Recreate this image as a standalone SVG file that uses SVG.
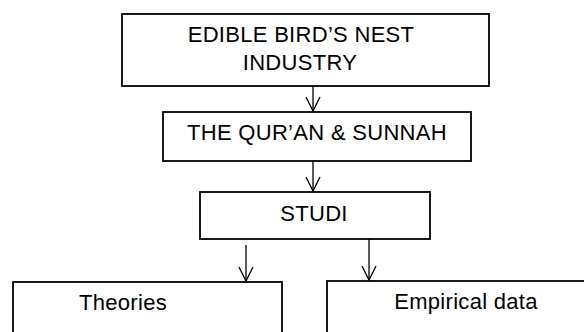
<svg xmlns="http://www.w3.org/2000/svg" width="584" height="332" viewBox="0 0 584 332">
<defs>
<style>
.box{fill:#fff;stroke:#000;stroke-width:1.8}
.lbl{font-family:"Liberation Sans",Arial,sans-serif;font-size:22px;letter-spacing:0.3px;fill:#000;text-anchor:middle}
.con{stroke:#000;stroke-width:1.3;fill:none}
</style>
<marker id="arr" markerUnits="userSpaceOnUse" markerWidth="20" markerHeight="20" viewBox="-16 -10 20 20" refX="0" refY="0" orient="auto">
<path d="M-14,-7 L0,0 L-14,7" fill="none" stroke="#000" stroke-width="1.3"/>
</marker>
</defs>
<rect width="584" height="332" fill="#fff"/>
<g id="connectors">
<line class="con" x1="313" y1="86" x2="313" y2="111" marker-end="url(#arr)"/>
<line class="con" x1="313" y1="161" x2="313" y2="191" marker-end="url(#arr)"/>
<line class="con" x1="246" y1="245" x2="246" y2="281" marker-end="url(#arr)"/>
<line class="con" x1="369" y1="239" x2="369" y2="280" marker-end="url(#arr)"/>
</g>
<g id="node-industry">
<rect class="box" x="122" y="14" width="367" height="72"/>
<text class="lbl" x="301" y="42">EDIBLE BIRD’S NEST</text>
<text class="lbl" x="300" y="70">INDUSTRY</text>
</g>
<g id="node-quran">
<rect class="box" x="163" y="112" width="308" height="49"/>
<text class="lbl" x="317" y="140">THE QUR’AN &amp; SUNNAH</text>
</g>
<g id="node-studi">
<rect class="box" x="200" y="192" width="230" height="47"/>
<text class="lbl" x="314" y="221">STUDI</text>
</g>
<g id="node-theories">
<rect class="box" x="13" y="282" width="269" height="70"/>
<text class="lbl" x="123" y="310">Theories</text>
</g>
<g id="node-empirical">
<rect class="box" x="327" y="281" width="280" height="70"/>
<text class="lbl" x="466" y="309">Empirical data</text>
</g>
</svg>
